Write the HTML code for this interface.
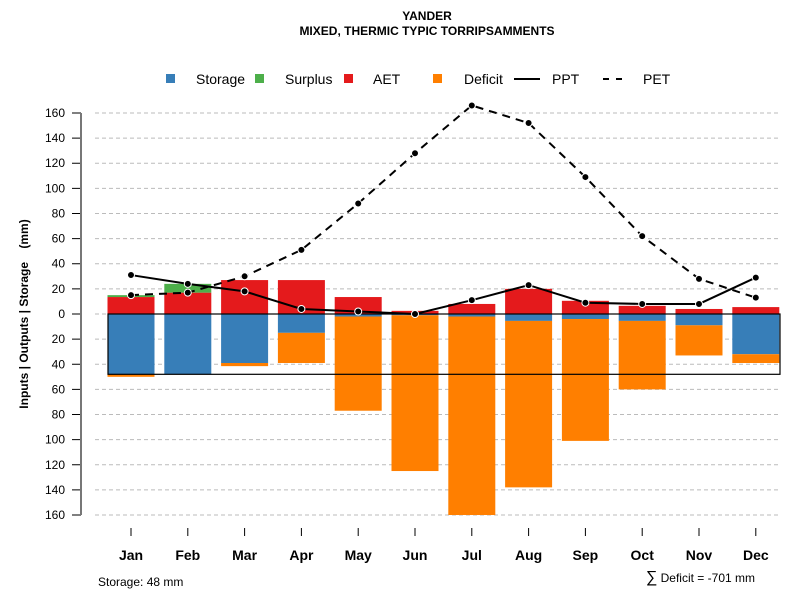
<!DOCTYPE html>
<html><head><meta charset="utf-8"><style>
body{margin:0;background:#fff}
svg{display:block;font-family:"Liberation Sans",sans-serif}
</style></head><body>
<svg id="c" width="800" height="600">
<text x="427" y="20" text-anchor="middle" font-size="12" font-weight="bold">YANDER</text>
<text x="427" y="35" text-anchor="middle" font-size="12" font-weight="bold">MIXED, THERMIC TYPIC TORRIPSAMMENTS</text>
<g font-size="14">
<rect x="166" y="74" width="9" height="9" fill="#377eb8"/>
<text x="196" y="84">Storage</text>
<rect x="255" y="74" width="9" height="9" fill="#4daf4a"/>
<text x="285" y="84">Surplus</text>
<rect x="344" y="74" width="9" height="9" fill="#e41a1c"/>
<text x="373" y="84">AET</text>
<rect x="433" y="74" width="9" height="9" fill="#ff7f00"/>
<text x="464" y="84">Deficit</text>
<line x1="514" y1="79" x2="540" y2="79" stroke="#000" stroke-width="2"/>
<text x="552" y="84">PPT</text>
<line x1="603" y1="79" x2="629" y2="79" stroke="#000" stroke-width="2" stroke-dasharray="6,7"/>
<text x="643" y="84">PET</text>
</g>
<text transform="translate(28,314) rotate(-90)" text-anchor="middle" font-size="12" font-weight="bold">Inputs | Outputs | Storage&#160;&#160;&#160;&#160;(mm)</text>
<text x="98" y="586" font-size="12">Storage: 48 mm</text>
<text x="755" y="582" text-anchor="end" font-size="12"><tspan font-size="16">∑</tspan> Deficit = -701 mm</text>
<g id="grid"></g><g id="bars"></g><g id="axes"></g><g id="lines"></g>
</svg>
<script>
const months=["Jan","Feb","Mar","Apr","May","Jun","Jul","Aug","Sep","Oct","Nov","Dec"];
const aet=[13.5,17,27,27,13.5,2.5,8,20,10.5,6.5,4,5.5];
const surplus=[1.5,7,0,0,0,0,0,0,0,0,0,0];
const storage=[48,48,39,15,2,1,2,5.5,4,5.5,9,32];
const deficit=[2,0,2.5,24,75,124,158,132.5,97,54.5,24,7];
const ppt=[31,24,18,4,2,0,11,23,9,8,8,29];
const pet=[15,17,30,51,88,128,166,152,109,62,28,13];
const yTicks=[-160,-140,-120,-100,-80,-60,-40,-20,0,20,40,60,80,100,120,140,160];
const storageCap=48;
const NS="http://www.w3.org/2000/svg";
const y=v=>314-v*1.2563;
const x=i=>131+i*56.8;
const bw=47;
function mk(t,a,p){const e=document.createElementNS(NS,t);for(const k in a)e.setAttribute(k,a[k]);document.getElementById(p).appendChild(e);return e;}
yTicks.forEach(t=>{
  const g=mk("line",{x1:95,x2:780,y1:y(t),y2:y(t),stroke:"#bbb","stroke-dasharray":"4,3"},"grid");
  
  
  const tk=mk("line",{x1:72,x2:81,y1:y(t),y2:y(t),stroke:"#000"},"axes");
  
  
  const lb=mk("text",{x:65,y:y(t)+4,"text-anchor":"end","font-size":"12"},"axes");
  lb.textContent=Math.abs(t);
  
  
});
const ax=mk("line",{x1:81,x2:81,y1:y(160),y2:y(-160),stroke:"#777","stroke-width":2},"axes");


function bar(i,v0,v1,c,n){const r=mk("rect",{x:x(i)-bw/2,y:Math.min(y(v0),y(v1)),width:bw,height:Math.abs(y(v1)-y(v0)),fill:c},"bars");
  
  }
months.forEach((m,i)=>{
  bar(i,0,aet[i],"#e41a1c","bar-aet-"+m.toLowerCase());
  if(surplus[i]>0)bar(i,aet[i],aet[i]+surplus[i],"#4daf4a","bar-surplus-"+m.toLowerCase());
  bar(i,0,-storage[i],"#377eb8","bar-storage-"+m.toLowerCase());
  if(deficit[i]>0)bar(i,-storage[i],-storage[i]-deficit[i],"#ff7f00","bar-deficit-"+m.toLowerCase());
  const tk=mk("line",{x1:x(i),x2:x(i),y1:528,y2:536,stroke:"#000"},"axes");
  
  
  const lb=mk("text",{x:x(i),y:560,"text-anchor":"middle","font-size":"14","font-weight":"bold"},"axes");
  lb.textContent=m;
  
  
});
const box=mk("rect",{x:108,y:y(0),width:672,height:y(-storageCap)-y(0),fill:"none",stroke:"#000","stroke-width":1.2},"bars");


function series(vals,dash,n){
  const p=mk("polyline",{points:vals.map((v,i)=>x(i)+","+y(v)).join(" "),fill:"none",stroke:"#000","stroke-width":2,"stroke-dasharray":dash},"lines");
  
  
  vals.forEach((v,i)=>{const c=mk("circle",{cx:x(i),cy:y(v),r:3.5,fill:"#000",stroke:"#fff","stroke-width":1},"lines");
    
    });
}
series(pet,"8,6","pet");
series(ppt,"none","ppt");
</script>
</body></html>
